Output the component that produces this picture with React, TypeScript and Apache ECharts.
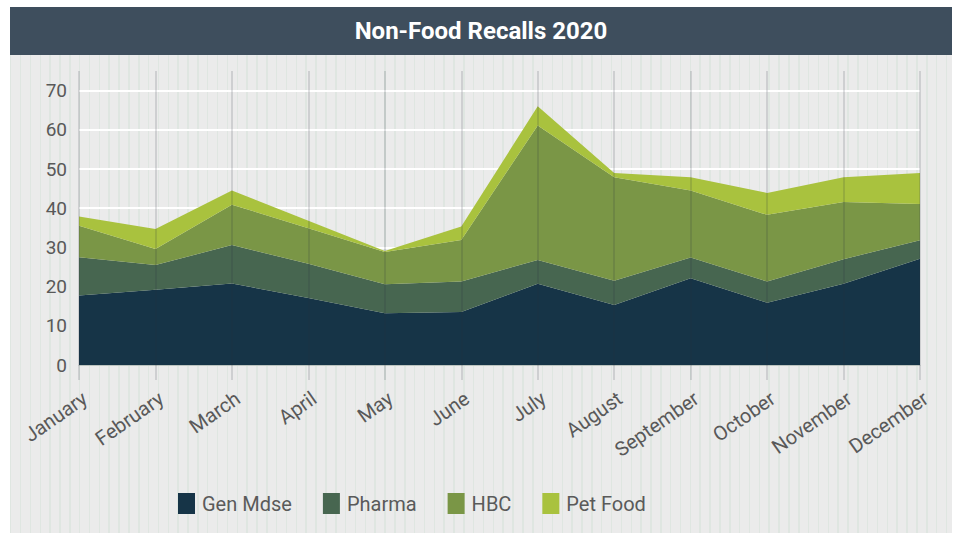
import React, { useEffect, useRef } from "react";
import * as echarts from "echarts";

const months = ["January", "February", "March", "April", "May", "June", "July", "August", "September", "October", "November", "December"];
const genMdse = [17.7, 19.2, 20.8, 17.1, 13.2, 13.5, 20.7, 15.3, 22.1, 15.9, 20.7, 27.1];
const pharma = [9.8, 6.3, 9.8, 8.7, 7.4, 7.8, 6.1, 6.2, 5.3, 5.4, 6.3, 4.7];
const hbc = [8.0, 4.1, 10.3, 9.1, 8.2, 10.6, 34.3, 26.4, 17.1, 17.0, 14.6, 9.3];
const petFood = [2.4, 5.1, 3.6, 1.9, 0.3, 3.4, 4.9, 1.1, 3.4, 5.6, 6.3, 7.9];
const yTicks = [0, 10, 20, 30, 40, 50, 60, 70];

const seriesNames = ["Gen Mdse", "Pharma", "HBC", "Pet Food"];
const seriesColors = ["#163447", "#476650", "#7a9646", "#a9c23e"];
const seriesData = [genMdse, pharma, hbc, petFood];

const FONT = "Roboto, 'Noto Sans', sans-serif";

export default function App() {
  const ref = useRef<HTMLDivElement>(null);
  useEffect(() => {
    if (!ref.current) return;
    const chart = echarts.init(ref.current, undefined, { renderer: "svg" });
    const series: any[] = seriesData.map((d, i) => ({
      name: seriesNames[i],
      type: "line",
      stack: "total",
      data: d,
      symbol: "none",
      lineStyle: { width: 0 },
      areaStyle: { color: seriesColors[i], opacity: 1 },
      itemStyle: { color: seriesColors[i] },
      emphasis: { disabled: true },
    }));
    series[3].markLine = {
      silent: true,
      symbol: "none",
      label: { show: false },
      lineStyle: { color: "rgba(40,50,60,0.2)", width: 1.5, type: "solid" },
      data: months.map((m) => ({ xAxis: m })),
    };
    chart.setOption({
      animation: false,
      backgroundColor: "transparent",
      textStyle: { fontFamily: FONT },
      graphic: [
        { type: "rect", shape: { x: 10, y: 7, width: 942, height: 48 }, style: { fill: "#3e4e5d" }, silent: true },
        {
          type: "text",
          x: 481,
          y: 31,
          style: {
            text: "Non-Food Recalls 2020",
            fill: "#ffffff",
            font: `bold 24px ${FONT}`,
            align: "center",
            verticalAlign: "middle",
          },
          silent: true,
        },
      ],
      grid: { left: 79, right: 36, top: 71, bottom: 168 },
      legend: {
        left: 173,
        top: 488,
        itemWidth: 17,
        itemHeight: 21,
        itemGap: 31,
        icon: "rect",
        data: seriesNames,
        textStyle: { fontSize: 20, color: "#5a5a5a", fontFamily: FONT, padding: [0, 0, 0, 2] },
        selectedMode: false,
      },
      xAxis: {
        type: "category",
        data: months,
        boundaryGap: false,
        axisLine: { show: true, lineStyle: { color: "#bcc4bf", width: 1 } },
        axisTick: { show: true, length: 15, lineStyle: { color: "rgba(40,50,60,0.2)", width: 1.5 } },
        axisLabel: {
          rotate: 35,
          fontSize: 20,
          color: "#595959",
          margin: 23,
          interval: 0,
          fontFamily: FONT,
          verticalAlign: "top",
        },
        splitLine: { show: false },
      },
      yAxis: {
        type: "value",
        min: 0,
        max: 75,
        interval: 10,
        axisLine: { show: false },
        axisTick: { show: false },
        axisLabel: {
          fontSize: 19,
          color: "#595959",
          margin: 12,
          showMaxLabel: false,
          fontFamily: FONT,
          formatter: (v: number) => (yTicks.includes(v) ? String(v) : ""),
        },
        splitLine: { show: true, showMaxLine: false, lineStyle: { color: "#ffffff", width: 2 } },
      },
      series,
    });
    return () => chart.dispose();
  }, []);
  return (
    <div style={{ position: "fixed", left: 0, top: 0, width: 956, height: 533, background: "#ffffff" }}>
      <div
        style={{
          position: "absolute",
          left: 10,
          top: 55,
          width: 942,
          height: 478,
          background:
            "repeating-linear-gradient(90deg, #dfe6e1 0px, #dfe6e1 1.5px, #ebebeb 1.5px, #ebebeb 9.85px)",
        }}
      />
      <div ref={ref} style={{ position: "absolute", left: 0, top: 0, width: 956, height: 533 }} />
    </div>
  );
}
